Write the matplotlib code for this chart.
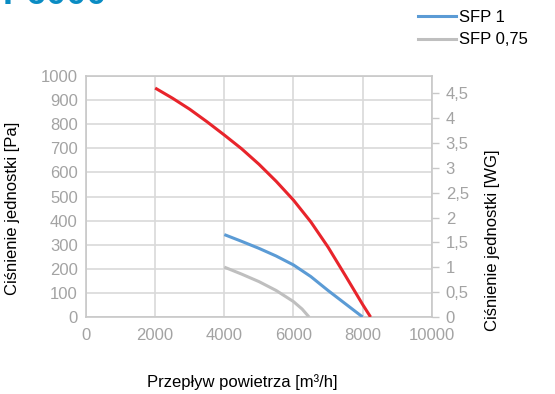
import matplotlib.pyplot as plt
from matplotlib.ticker import FuncFormatter
from matplotlib.lines import Line2D

plt.rcParams['font.family'] = ['Liberation Sans', 'DejaVu Sans']

# fan curve readings: airflow [m3/h] -> pressure [Pa]
flow_max = [2000, 2500, 3000, 3500, 4000, 4500, 5000, 5500, 6000,
            6500, 7000, 7500, 8000, 8230]
pres_max = [950, 908, 862, 810, 755, 698, 634, 563, 485,
            395, 290, 172, 52, 0]

flow_sfp1 = [4000, 4500, 5000, 5500, 6000, 6500, 7000, 7500, 8000]
pres_sfp1 = [342, 314, 285, 253, 216, 168, 110, 55, 0]

flow_sfp075 = [4000, 4500, 5000, 5500, 6000, 6250, 6450]
pres_sfp075 = [207, 178, 147, 110, 64, 33, 0]

x_ticks = [0, 2000, 4000, 6000, 8000, 10000]
y_ticks = list(range(0, 1001, 100))
wg_ticks = [0, 0.5, 1, 1.5, 2, 2.5, 3, 3.5, 4, 4.5]

RED = '#e8242b'
BLUE = '#5b9bd5'
GREY = '#bfbfbf'
TICK = '#a3a3a3'

fig = plt.figure(figsize=(5.55, 3.94), dpi=100)
ax = fig.add_axes([0.155, 0.1954, 0.623, 0.6117])

ax.plot(flow_max, pres_max, color=RED, lw=2.2, solid_capstyle='butt', zorder=3)
ax.plot(flow_sfp1, pres_sfp1, color=BLUE, lw=2.2, solid_capstyle='butt', zorder=3)
ax.plot(flow_sfp075, pres_sfp075, color=GREY, lw=2.2, solid_capstyle='butt', zorder=3)

ax.set_xlim(0, 10000)
ax.set_ylim(0, 1000)
ax.set_xticks(x_ticks)
ax.set_yticks(y_ticks)
ax.grid(True, color='#d9d9d9', lw=1.2)
ax.set_axisbelow(True)
ax.tick_params(length=0, labelsize=12, labelcolor=TICK, pad=8)
ax.tick_params(axis='y', pad=6)
for s in ax.spines.values():
    s.set_color('#c8c8c8')
    s.set_linewidth(1.2)

# secondary pressure scale in inches of water
ax2 = ax.twinx()
ax2.set_ylim(0, 4.85)
ax2.set_yticks(wg_ticks)
ax2.yaxis.set_major_formatter(FuncFormatter(lambda v, p: ('%g' % v).replace('.', ',')))
ax2.tick_params(axis='y', length=5, width=1, color='#c8c8c8', labelsize=12,
                labelcolor=TICK, pad=5)
for s in ax2.spines.values():
    s.set_visible(False)

fig.text(0.022, 0.47, 'Ciśnienie jednostki [Pa]', rotation=90, fontsize=12,
         ha='center', va='center')
fig.text(0.888, 0.39, 'Ciśnienie jednostki [WG]', rotation=90, fontsize=12,
         ha='center', va='center')
fig.text(0.436, 0.03, 'Przepływ powietrza [m³/h]', fontsize=12,
         ha='center', va='center')

# model name, partly above the canvas
fig.text(0.005, 0.99, 'P6000', fontsize=26, fontweight='bold', color='#0a8cc3',
         ha='left', va='baseline')

handles = [Line2D([], [], color=BLUE, lw=2.2), Line2D([], [], color=GREY, lw=2.2)]
fig.legend(handles, ['SFP 1', 'SFP 0,75'], loc='upper left',
           bbox_to_anchor=(0.735, 1.0), frameon=False, fontsize=12,
           handlelength=2.3, handletextpad=0.15, labelspacing=0.45,
           borderaxespad=0.2)

fig.savefig('out.png', dpi=100)
